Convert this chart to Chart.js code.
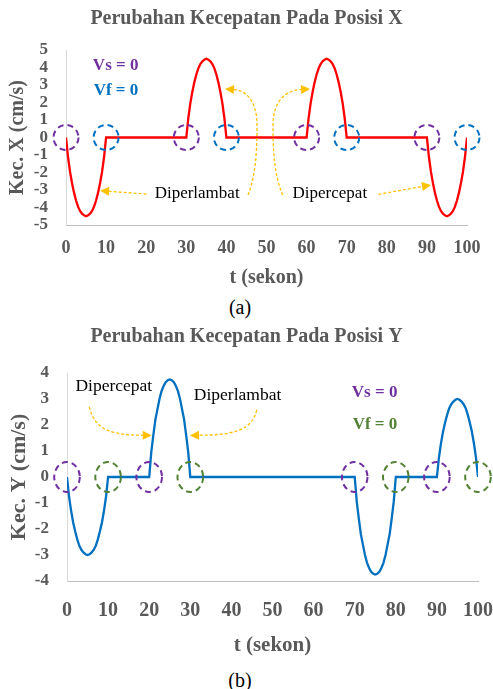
<!DOCTYPE html>
<html>
<head>
<meta charset="utf-8">
<script src="https://cdn.jsdelivr.net/npm/chart.js@4/dist/chart.umd.min.js"></script>
<style>
  html, body { margin: 0; padding: 0; background: #ffffff; }
  #halaman { position: relative; width: 493px; height: 689px; overflow: hidden; background: #ffffff; }
  canvas { position: absolute; left: 0; }
  #grafikX { top: 0; }
  #grafikY { top: 320px; }
  .keterangan {
    position: absolute; left: 200px; width: 80px; text-align: center;
    font-family: "Liberation Serif", "Times New Roman", serif; font-size: 20px;
    line-height: 24px; color: #000000;
  }
</style>
</head>
<body>
<div id="halaman">
  <canvas id="grafikX" width="493" height="295"></canvas>
  <div class="keterangan" style="top:295px">(a)</div>
  <canvas id="grafikY" width="493" height="340"></canvas>
  <div class="keterangan" style="top:668px">(b)</div>
</div>
<script>
// ---- Data: kecepatan pada posisi X (cm/s) terhadap waktu (s) ----
const waktuX = [
  0, 0.5, 1, 1.5, 2, 2.5, 3, 3.5, 4, 4.5, 5, 5.5, 6, 6.5, 7, 7.5, 8, 8.5, 9, 9.5, 10,
  30, 30.5, 31, 31.5, 32, 32.5, 33, 33.5, 34, 34.5, 35, 35.5, 36, 36.5, 37, 37.5, 38, 38.5, 39, 39.5, 40,
  60, 60.5, 61, 61.5, 62, 62.5, 63, 63.5, 64, 64.5, 65, 65.5, 66, 66.5, 67, 67.5, 68, 68.5, 69, 69.5, 70,
  90, 90.5, 91, 91.5, 92, 92.5, 93, 93.5, 94, 94.5, 95, 95.5, 96, 96.5, 97, 97.5, 98, 98.5, 99, 99.5, 100
];
const kecX = [
  0, -1.1, -1.95, -2.6, -3.15, -3.6, -3.95, -4.2, -4.35, -4.45, -4.5, -4.45, -4.35, -4.2, -3.95, -3.6, -3.15, -2.6, -1.95, -1.1, 0,
  0, 1.1, 1.95, 2.6, 3.15, 3.6, 3.95, 4.2, 4.35, 4.45, 4.5, 4.45, 4.35, 4.2, 3.95, 3.6, 3.15, 2.6, 1.95, 1.1, 0,
  0, 1.1, 1.95, 2.6, 3.15, 3.6, 3.95, 4.2, 4.35, 4.45, 4.5, 4.45, 4.35, 4.2, 3.95, 3.6, 3.15, 2.6, 1.95, 1.1, 0,
  0, -1.1, -1.95, -2.6, -3.15, -3.6, -3.95, -4.2, -4.35, -4.45, -4.5, -4.45, -4.35, -4.2, -3.95, -3.6, -3.15, -2.6, -1.95, -1.1, 0
];

// ---- Data: kecepatan pada posisi Y (cm/s) terhadap waktu (s) ----
const waktuY = [
  0, 0.5, 1, 1.5, 2, 2.5, 3, 3.5, 4, 4.5, 5, 5.5, 6, 6.5, 7, 7.5, 8, 8.5, 9, 9.5, 10,
  20, 20.5, 21, 21.5, 22, 22.5, 23, 23.5, 24, 24.5, 25, 25.5, 26, 26.5, 27, 27.5, 28, 28.5, 29, 29.5, 30,
  70, 70.5, 71, 71.5, 72, 72.5, 73, 73.5, 74, 74.5, 75, 75.5, 76, 76.5, 77, 77.5, 78, 78.5, 79, 79.5, 80,
  90, 90.5, 91, 91.5, 92, 92.5, 93, 93.5, 94, 94.5, 95, 95.5, 96, 96.5, 97, 97.5, 98, 98.5, 99, 99.5, 100
];
const kecY = [
  0, -0.75, -1.3, -1.75, -2.1, -2.4, -2.65, -2.8, -2.9, -2.97, -3, -2.97, -2.9, -2.8, -2.65, -2.4, -2.1, -1.75, -1.3, -0.75, 0,
  0, 0.95, 1.6, 2.2, 2.6, 3, 3.3, 3.5, 3.65, 3.72, 3.75, 3.72, 3.65, 3.5, 3.3, 3, 2.6, 2.2, 1.6, 0.95, 0,
  0, -0.95, -1.6, -2.2, -2.6, -3, -3.3, -3.5, -3.65, -3.72, -3.75, -3.72, -3.65, -3.5, -3.3, -3, -2.6, -2.2, -1.6, -0.95, 0,
  0, 0.75, 1.3, 1.75, 2.1, 2.4, 2.65, 2.8, 2.9, 2.97, 3, 2.97, 2.9, 2.8, 2.65, 2.4, 2.1, 1.75, 1.3, 0.75, 0
];

// ---- Label sumbu ----
const tickWaktu = [0, 10, 20, 30, 40, 50, 60, 70, 80, 90, 100];
const tickKecX = [-5, -4, -3, -2, -1, 0, 1, 2, 3, 4, 5];
const tickKecY = [-4, -3, -2, -1, 0, 1, 2, 3, 4];

// ---- Saat kecepatan awal / akhir bernilai nol ----
const titikVsX = [0, 30, 60, 90];
const titikVfX = [10, 40, 70, 100];
const titikVsY = [0, 20, 70, 90];
const titikVfY = [10, 30, 80, 100];

const SERIF = '"Liberation Serif", "Times New Roman", serif';
const ABU = '#595959';
const UNGU = '#7030A0';
const BIRU = '#0070C0';
const HIJAU = '#548235';
const KUNING = '#FFC000';

function pasangan(xs, ys) {
  return xs.map((t, i) => ({ x: t, y: ys[i] }));
}

function pakaiTick(daftar) {
  return (scale) => { scale.ticks = daftar.map(v => ({ value: v })); };
}

// Lingkaran putus-putus, panah kuning, dan teks keterangan
function gambarPanah(ctx, pts, warna) {
  const n = pts.length;
  const ujung = pts[n - 1], sebelum = pts[n - 2];
  const sudut = Math.atan2(ujung.y - sebelum.y, ujung.x - sebelum.x);
  const L = 9, W = 4.5;
  const pangkal = { x: ujung.x - L * Math.cos(sudut), y: ujung.y - L * Math.sin(sudut) };
  ctx.strokeStyle = warna;
  ctx.fillStyle = warna;
  ctx.lineWidth = 1.3;
  ctx.setLineDash([3, 2]);
  ctx.beginPath();
  ctx.moveTo(pts[0].x, pts[0].y);
  if (n === 2) {
    ctx.lineTo(pangkal.x, pangkal.y);
  } else {
    for (let i = 1; i + 2 < n; i += 3) {
      const akhir = (i + 2 === n - 1) ? pangkal : pts[i + 2];
      ctx.bezierCurveTo(pts[i].x, pts[i].y, pts[i + 1].x, pts[i + 1].y, akhir.x, akhir.y);
    }
  }
  ctx.stroke();
  ctx.setLineDash([]);
  ctx.beginPath();
  ctx.moveTo(ujung.x, ujung.y);
  ctx.lineTo(pangkal.x + W * Math.sin(sudut), pangkal.y - W * Math.cos(sudut));
  ctx.lineTo(pangkal.x - W * Math.sin(sudut), pangkal.y + W * Math.cos(sudut));
  ctx.closePath();
  ctx.fill();
}

const anotasi = {
  id: 'anotasi',
  afterDatasetsDraw(chart, args, opts) {
    const { ctx } = chart;
    const sx = chart.scales.x, sy = chart.scales.y;
    const px = (t, v) => ({ x: sx.getPixelForValue(t), y: sy.getPixelForValue(v) });
    ctx.save();
    (opts.lingkaran || []).forEach(g => {
      g.titik.forEach(t => {
        const p = px(t, 0);
        ctx.beginPath();
        ctx.setLineDash([6, 4]);
        ctx.lineWidth = 2;
        ctx.strokeStyle = g.warna;
        ctx.ellipse(p.x, p.y, g.rx, g.ry, 0, 0, Math.PI * 2);
        ctx.stroke();
      });
    });
    ctx.setLineDash([]);
    (opts.panah || []).forEach(a => {
      gambarPanah(ctx, a.map(q => px(q[0], q[1])), KUNING);
    });
    (opts.teks || []).forEach(tx => {
      const p = px(tx.t, tx.v);
      ctx.font = tx.font;
      ctx.fillStyle = tx.warna;
      ctx.textAlign = tx.align || 'center';
      ctx.textBaseline = 'middle';
      ctx.fillText(tx.isi, p.x, p.y);
    });
    ctx.restore();
  }
};

function buatGrafik(id, cfg) {
  return new Chart(document.getElementById(id), {
    type: 'line',
    data: {
      datasets: [{
        data: pasangan(cfg.waktu, cfg.kec),
        borderColor: cfg.warnaGaris,
        borderWidth: 2.3,
        pointRadius: 0,
        tension: 0,
        fill: false
      }]
    },
    options: {
      responsive: false,
      animation: false,
      events: [],
      layout: { padding: 0 },
      plugins: {
        legend: { display: false },
        tooltip: { enabled: false },
        title: {
          display: true,
          text: cfg.judul,
          color: ABU,
          font: { family: SERIF, size: 20, weight: 'bold' },
          padding: { top: cfg.judulAtas, bottom: cfg.judulBawah }
        },
        anotasi: cfg.anotasi
      },
      scales: {
        x: {
          type: 'linear',
          min: 0, max: 100,
          afterBuildTicks: pakaiTick(tickWaktu),
          afterFit: (s) => { s.height = cfg.tinggiX; s.paddingRight = cfg.kanan; },
          grid: { display: false, drawTicks: false },
          border: { display: true, color: '#BFBFBF', width: 1 },
          ticks: {
            color: ABU, padding: cfg.padTickX, maxRotation: 0, autoSkip: false,
            font: { family: SERIF, size: cfg.fontTickX, weight: 'bold' }
          },
          title: {
            display: true, text: 't (sekon)', color: ABU,
            font: { family: SERIF, size: cfg.fontJudulX, weight: 'bold' },
            padding: { top: 0, bottom: cfg.padJudulX }
          }
        },
        y: {
          type: 'linear',
          min: cfg.ymin, max: cfg.ymax,
          afterBuildTicks: pakaiTick(cfg.tickY),
          afterFit: (s) => { s.width = cfg.lebarY; },
          grid: { display: false, drawTicks: false },
          border: { display: true, color: '#D9D9D9', width: 1 },
          ticks: {
            color: ABU, padding: 18, autoSkip: false,
            font: { family: SERIF, size: 17, weight: 'bold' }
          },
          title: {
            display: true, text: cfg.judulY, color: ABU,
            font: { family: SERIF, size: cfg.fontJudulY, weight: 'bold' },
            padding: { top: cfg.padJudulY, bottom: 0 }
          }
        }
      }
    },
    plugins: [anotasi]
  });
}

buatGrafik('grafikX', {
  judul: 'Perubahan Kecepatan Pada Posisi X',
  judulY: 'Kec. X (cm/s)',
  waktu: waktuX, kec: kecX, warnaGaris: '#FF0000',
  ymin: -5, ymax: 5, tickY: tickKecX,
  kanan: 26, judulAtas: 7, judulBawah: 19,
  tinggiX: 70, lebarY: 66,
  fontTickX: 18, padTickX: 13, fontJudulX: 20, padJudulX: 5,
  fontJudulY: 20, padJudulY: 6,
  anotasi: {
    lingkaran: [
      { titik: titikVsX, warna: UNGU, rx: 12.5, ry: 12.5 },
      { titik: titikVfX, warna: BIRU, rx: 12.5, ry: 12.5 }
    ],
    panah: [
      [[20.1, -3.23], [8.5, -3.04]],
      [[45.39, -3.29], [47.38, -2.14], [47.63, -0.71], [47.63, 0.71], [47.63, 2.14], [44.64, 2.71], [39.65, 2.77]],
      [[54.04, -3.29], [51.87, -2.14], [51.62, -0.71], [51.62, 0.71], [51.62, 2.14], [55.11, 2.71], [60.85, 2.77]],
      [[77.9, -3.25], [91.0, -2.71]]
    ],
    teks: [
      { isi: 'Vs = 0', t: 6.7, v: 4.09, align: 'left', warna: UNGU, font: 'bold 17px ' + SERIF },
      { isi: 'Vf = 0', t: 6.9, v: 2.67, align: 'left', warna: BIRU, font: 'bold 17px ' + SERIF },
      { isi: 'Diperlambat', t: 32.7, v: -3.2, warna: '#000000', font: '17px ' + SERIF },
      { isi: 'Dipercepat', t: 65.8, v: -3.2, warna: '#000000', font: '17px ' + SERIF }
    ]
  }
});

buatGrafik('grafikY', {
  judul: 'Perubahan Kecepatan Pada Posisi Y',
  judulY: 'Kec. Y (cm/s)',
  waktu: waktuY, kec: kecY, warnaGaris: BIRU,
  ymin: -4, ymax: 4, tickY: tickKecY,
  kanan: 15, judulAtas: 5, judulBawah: 24,
  tinggiX: 79, lebarY: 67,
  fontTickX: 20, padTickX: 17.5, fontJudulX: 21, padJudulX: 1.5,
  fontJudulY: 22, padJudulY: 5.8,
  anotasi: {
    lingkaran: [
      { titik: titikVsY, warna: UNGU, rx: 12.8, ry: 15 },
      { titik: titikVfY, warna: HIJAU, rx: 12.8, ry: 15 }
    ],
    panah: [
      [[5.43, 2.70], [6.81, 1.73], [11.68, 1.62], [20.61, 1.60]],
      [[46.16, 2.58], [45.01, 1.73], [39.66, 1.62], [29.93, 1.60]]
    ],
    teks: [
      { isi: 'Dipercepat', t: 11.4, v: 3.47, warna: '#000000', font: '17.5px ' + SERIF },
      { isi: 'Diperlambat', t: 41.5, v: 3.12, warna: '#000000', font: '17.5px ' + SERIF },
      { isi: 'Vs = 0', t: 69.3, v: 3.25, align: 'left', warna: UNGU, font: 'bold 17px ' + SERIF },
      { isi: 'Vf = 0', t: 69.5, v: 2.02, align: 'left', warna: HIJAU, font: 'bold 17px ' + SERIF }
    ]
  }
});
</script>
</body>
</html>
